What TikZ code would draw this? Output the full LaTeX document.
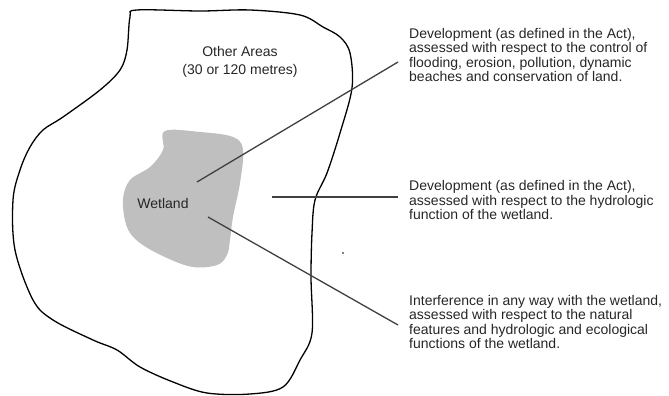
\documentclass[tikz,border=0pt]{standalone}
\usepackage{fontspec}
\setmainfont{Liberation Sans}
\usepackage{tikz}
\usetikzlibrary{positioning}

\begin{document}
\begin{tikzpicture}[x=1pt, y=-1pt]
\useasboundingbox (0,0) rectangle (669,396);
\tikzstyle{every node} = [inner sep=0pt, align=left, text=black!85, font=\fontsize{14}{14.6}\selectfont]
\draw[line width=1.3pt] plot[smooth cycle, tension=0.55] coordinates {
	(137,10) (200,11) (250,10) (300,15) (323,27) (340,37) (350,53) (352,88)
	(340,133) (327,173) (315,200) (312,233) (311,277) (312,333) (300,360)
	(283,387) (250,394) (207,393) (173,382) (140,367) (117,350) (93,340)
	(53,320) (33,300) (15,250) (13,200) (20,170) (30,147) (43,130) (63,117)
	(100,90) (120,70) (127,50) (130,17)};
\fill[black!25] plot[smooth cycle, tension=0.6] coordinates {
	(165,131) (200,132) (233,137) (243,150) (240,183) (233,217) (230,240)
	(227,255) (217,265) (193,267) (167,258) (140,243) (127,227) (123,200)
	(130,180) (150,167) (163,150)};
\fill (343,253) circle (0.8);
\node (wetland) at (163,203) {Wetland};
\node[align=center, font=\fontsize{14}{18.5}\selectfont] (other) at (240,62) {Other Areas\\(30 or 120 metres)};
\node[anchor=west] (dev1) at (409,55) {Development (as defined in the Act),\\assessed with respect to the control of\\flooding, erosion, pollution, dynamic\\beaches and conservation of land.};
\node[anchor=west] (dev2) at (409,200) {Development (as defined in the Act),\\assessed with respect to the hydrologic\\function of the wetland.};
\node[anchor=west] (interf) at (409,322) {Interference in any way with the wetland,\\assessed with respect to the natural\\features and hydrologic and ecological\\functions of the wetland.};
\coordinate (a1) at (197,182);
\coordinate (b1) at (398,62);
\coordinate (a2) at (272,197);
\coordinate (b2) at (398,197);
\coordinate (a3) at (208,217);
\coordinate (b3) at (398,325);
\draw[black!75, line width=1.3pt] (a1) -- (b1);
\draw[black!75, line width=1.3pt] (a2) -- (b2);
\draw[black!75, line width=1.3pt] (a3) -- (b3);
\end{tikzpicture}
\end{document}
